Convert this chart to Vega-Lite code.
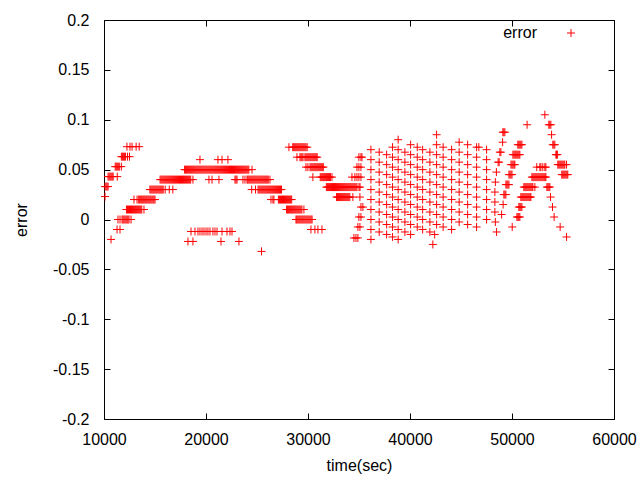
{
"$schema": "https://vega.github.io/schema/vega-lite/v6.json",
"width": 510, "height": 399,
"autosize": {"type": "none"},
"padding": {"left": 104, "top": 20, "right": 26, "bottom": 61},
"background": "white",
"config": {"view": {"stroke": "black", "strokeWidth": 1}, "font": "Liberation Sans",
 "axis": {"labelFont": "Liberation Sans", "labelFontSize": 16, "labelColor": "black", "titleFont": "Liberation Sans", "titleFontSize": 16, "titleFontWeight": "normal", "titleColor": "black", "tickColor": "black", "grid": false, "domain": false, "tickSize": -6, "labelFlush": false, "labelOverlap": false}},
"data": {"values": [
{"t":10100,"e":0.023},
{"t":10100,"e":0.033},{"t":10200,"e":0.033},{"t":10300,"e":0.033},{"t":10400,"e":0.033},
{"t":10400,"e":0.043},{"t":10500,"e":0.043},{"t":10600,"e":0.043},{"t":10700,"e":0.043},{"t":10800,"e":0.043},{"t":10900,"e":0.043},{"t":11300,"e":0.043},
{"t":11100,"e":0.053},{"t":11200,"e":0.053},{"t":11300,"e":0.053},{"t":11400,"e":0.053},{"t":11500,"e":0.053},{"t":11700,"e":0.053},
{"t":11700,"e":0.063},{"t":11800,"e":0.063},{"t":11900,"e":0.063},{"t":12000,"e":0.063},{"t":12100,"e":0.063},{"t":12300,"e":0.063},{"t":12500,"e":0.063},
{"t":12250,"e":0.073},{"t":12550,"e":0.073},{"t":12750,"e":0.073},{"t":13150,"e":0.073},{"t":13450,"e":0.073},
{"t":11370,"e":0},{"t":11570,"e":0},{"t":11770,"e":0},{"t":11860,"e":0},{"t":11960,"e":0},{"t":12060,"e":0},{"t":12160,"e":0},{"t":12260,"e":0},{"t":12350,"e":0},{"t":12450,"e":0},{"t":12650,"e":0},
{"t":11280,"e":-0.01},{"t":11570,"e":-0.01},{"t":10690,"e":-0.02},
{"t":12200,"e":0.01},{"t":12300,"e":0.01},{"t":12400,"e":0.01},{"t":12500,"e":0.01},{"t":12600,"e":0.01},{"t":12700,"e":0.01},{"t":12800,"e":0.01},{"t":12900,"e":0.01},{"t":13000,"e":0.01},{"t":13100,"e":0.01},{"t":13200,"e":0.01},{"t":13300,"e":0.01},{"t":13400,"e":0.01},{"t":13500,"e":0.01},{"t":13600,"e":0.01},{"t":13700,"e":0.01},{"t":13920,"e":0.01},
{"t":12940,"e":0.02},{"t":13240,"e":0.02},{"t":13400,"e":0.02},{"t":13500,"e":0.02},{"t":13600,"e":0.02},{"t":13700,"e":0.02},{"t":13800,"e":0.02},{"t":13900,"e":0.02},{"t":14000,"e":0.02},{"t":14100,"e":0.02},{"t":14200,"e":0.02},{"t":14300,"e":0.02},{"t":14400,"e":0.02},{"t":14500,"e":0.02},{"t":14600,"e":0.02},{"t":14700,"e":0.02},{"t":14800,"e":0.02},{"t":14900,"e":0.02},{"t":15000,"e":0.02},
{"t":14500,"e":0.03},{"t":14600,"e":0.03},{"t":14700,"e":0.03},{"t":14800,"e":0.03},{"t":14900,"e":0.03},{"t":15000,"e":0.03},{"t":15100,"e":0.03},{"t":15200,"e":0.03},{"t":15300,"e":0.03},{"t":15400,"e":0.03},{"t":15500,"e":0.03},{"t":15600,"e":0.03},{"t":15700,"e":0.03},{"t":15800,"e":0.03},{"t":16000,"e":0.03},{"t":16400,"e":0.03},{"t":16750,"e":0.03},
{"t":15500,"e":0.04},{"t":15600,"e":0.04},{"t":15700,"e":0.04},{"t":15800,"e":0.04},{"t":15900,"e":0.04},{"t":16000,"e":0.04},{"t":16100,"e":0.04},{"t":16200,"e":0.04},{"t":16300,"e":0.04},{"t":16400,"e":0.04},{"t":16500,"e":0.04},{"t":16600,"e":0.04},{"t":16700,"e":0.04},{"t":16800,"e":0.04},{"t":16900,"e":0.04},{"t":17000,"e":0.04},{"t":17100,"e":0.04},{"t":17200,"e":0.04},{"t":17300,"e":0.04},{"t":17400,"e":0.04},{"t":17500,"e":0.04},{"t":17600,"e":0.04},{"t":17700,"e":0.04},{"t":17800,"e":0.04},{"t":17900,"e":0.04},{"t":18000,"e":0.04},{"t":18100,"e":0.04},{"t":18200,"e":0.04},{"t":18300,"e":0.04},{"t":18400,"e":0.04},{"t":18500,"e":0.04},{"t":18720,"e":0.04},
{"t":20290,"e":0.04},{"t":20590,"e":0.04},{"t":21270,"e":0.04},{"t":22840,"e":0.04},{"t":22940,"e":0.04},{"t":23040,"e":0.04},{"t":23620,"e":0.04},{"t":23820,"e":0.04},{"t":24020,"e":0.04},
{"t":24100,"e":0.04},{"t":24200,"e":0.04},{"t":24300,"e":0.04},{"t":24400,"e":0.04},{"t":24500,"e":0.04},{"t":24600,"e":0.04},{"t":24700,"e":0.04},{"t":24800,"e":0.04},{"t":24900,"e":0.04},{"t":25000,"e":0.04},{"t":25100,"e":0.04},{"t":25200,"e":0.04},{"t":25300,"e":0.04},{"t":25400,"e":0.04},{"t":25500,"e":0.04},{"t":25600,"e":0.04},{"t":25700,"e":0.04},{"t":25800,"e":0.04},{"t":25900,"e":0.04},{"t":26000,"e":0.04},{"t":26100,"e":0.04},{"t":26270,"e":0.04},
{"t":17900,"e":0.05},{"t":18000,"e":0.05},{"t":18100,"e":0.05},{"t":18200,"e":0.05},{"t":18300,"e":0.05},{"t":18400,"e":0.05},{"t":18500,"e":0.05},{"t":18600,"e":0.05},{"t":18700,"e":0.05},{"t":18800,"e":0.05},{"t":18900,"e":0.05},{"t":19000,"e":0.05},{"t":19100,"e":0.05},{"t":19200,"e":0.05},{"t":19300,"e":0.05},{"t":19400,"e":0.05},{"t":19500,"e":0.05},{"t":19600,"e":0.05},{"t":19700,"e":0.05},{"t":19800,"e":0.05},{"t":19900,"e":0.05},{"t":20000,"e":0.05},{"t":20100,"e":0.05},{"t":20200,"e":0.05},{"t":20300,"e":0.05},{"t":20400,"e":0.05},{"t":20500,"e":0.05},{"t":20600,"e":0.05},{"t":20700,"e":0.05},{"t":20800,"e":0.05},{"t":20900,"e":0.05},{"t":21000,"e":0.05},{"t":21100,"e":0.05},{"t":21200,"e":0.05},{"t":21300,"e":0.05},{"t":21400,"e":0.05},{"t":21500,"e":0.05},{"t":21600,"e":0.05},{"t":21700,"e":0.05},{"t":21800,"e":0.05},{"t":21900,"e":0.05},{"t":22000,"e":0.05},{"t":22100,"e":0.05},{"t":22200,"e":0.05},{"t":22300,"e":0.05},{"t":22400,"e":0.05},{"t":22500,"e":0.05},{"t":22600,"e":0.05},{"t":22700,"e":0.05},{"t":22800,"e":0.05},{"t":22900,"e":0.05},{"t":23000,"e":0.05},{"t":23100,"e":0.05},{"t":23200,"e":0.05},{"t":23300,"e":0.05},{"t":23400,"e":0.05},{"t":23500,"e":0.05},{"t":23600,"e":0.05},{"t":23700,"e":0.05},{"t":23800,"e":0.05},{"t":23900,"e":0.05},{"t":24000,"e":0.05},{"t":24100,"e":0.05},{"t":24200,"e":0.05},{"t":24510,"e":0.05},
{"t":19410,"e":0.06},{"t":21170,"e":0.06},{"t":21570,"e":0.06},{"t":22150,"e":0.06},
{"t":24480,"e":0.03},{"t":24850,"e":0.03},{"t":25100,"e":0.03},{"t":25200,"e":0.03},{"t":25300,"e":0.03},{"t":25400,"e":0.03},{"t":25500,"e":0.03},{"t":25600,"e":0.03},{"t":25700,"e":0.03},{"t":25800,"e":0.03},{"t":25900,"e":0.03},{"t":26000,"e":0.03},{"t":26100,"e":0.03},{"t":26200,"e":0.03},{"t":26300,"e":0.03},{"t":26400,"e":0.03},{"t":26500,"e":0.03},{"t":26600,"e":0.03},{"t":26700,"e":0.03},{"t":26800,"e":0.03},{"t":26900,"e":0.03},{"t":27000,"e":0.03},{"t":27100,"e":0.03},{"t":27200,"e":0.03},{"t":27300,"e":0.03},{"t":27400,"e":0.03},
{"t":26370,"e":0.02},{"t":26560,"e":0.02},{"t":26660,"e":0.02},{"t":27100,"e":0.02},{"t":27200,"e":0.02},{"t":27300,"e":0.02},{"t":27400,"e":0.02},{"t":27500,"e":0.02},{"t":27600,"e":0.02},{"t":27700,"e":0.02},{"t":27800,"e":0.02},{"t":27900,"e":0.02},{"t":28000,"e":0.02},{"t":28100,"e":0.02},{"t":28200,"e":0.02},{"t":28300,"e":0.02},{"t":28400,"e":0.02},
{"t":27900,"e":0.01},{"t":28000,"e":0.01},{"t":28100,"e":0.01},{"t":28200,"e":0.01},{"t":28300,"e":0.01},{"t":28400,"e":0.01},{"t":28500,"e":0.01},{"t":28600,"e":0.01},{"t":28700,"e":0.01},{"t":28800,"e":0.01},{"t":28900,"e":0.01},{"t":29000,"e":0.01},{"t":29100,"e":0.01},{"t":29200,"e":0.01},{"t":29300,"e":0.01},{"t":29400,"e":0.01},{"t":29600,"e":0.01},
{"t":28820,"e":0},{"t":28900,"e":0},{"t":29000,"e":0},{"t":29100,"e":0},{"t":29200,"e":0},{"t":29300,"e":0},{"t":29400,"e":0},{"t":29500,"e":0},{"t":29600,"e":0},{"t":29700,"e":0},{"t":29800,"e":0},{"t":29900,"e":0},{"t":30000,"e":0},{"t":30100,"e":0},{"t":30200,"e":0},{"t":30300,"e":0},{"t":30400,"e":0},
{"t":30290,"e":-0.01},{"t":30680,"e":-0.01},{"t":30970,"e":-0.01},{"t":31370,"e":-0.01},
{"t":18530,"e":-0.012},{"t":18920,"e":-0.012},{"t":19210,"e":-0.012},{"t":19410,"e":-0.012},{"t":19610,"e":-0.012},{"t":19800,"e":-0.012},{"t":20000,"e":-0.012},{"t":20190,"e":-0.012},{"t":20390,"e":-0.012},{"t":20680,"e":-0.012},{"t":20880,"e":-0.012},{"t":21080,"e":-0.012},{"t":21570,"e":-0.012},{"t":22060,"e":-0.012},{"t":22350,"e":-0.012},{"t":22550,"e":-0.012},
{"t":18230,"e":-0.022},{"t":18720,"e":-0.022},{"t":21470,"e":-0.022},{"t":23230,"e":-0.022},{"t":25440,"e":-0.032},
{"t":28130,"e":0.0725},{"t":28500,"e":0.0725},{"t":28600,"e":0.0725},{"t":28700,"e":0.0725},{"t":28800,"e":0.0725},{"t":28900,"e":0.0725},{"t":29000,"e":0.0725},{"t":29100,"e":0.0725},{"t":29200,"e":0.0725},{"t":29300,"e":0.0725},{"t":29400,"e":0.0725},{"t":29500,"e":0.0725},{"t":29600,"e":0.0725},{"t":29700,"e":0.0725},{"t":29800,"e":0.0725},{"t":29920,"e":0.0725},
{"t":28920,"e":0.0625},{"t":29210,"e":0.0625},{"t":29310,"e":0.0625},{"t":29410,"e":0.0625},{"t":29510,"e":0.0625},{"t":29700,"e":0.0625},{"t":29800,"e":0.0625},{"t":29900,"e":0.0625},{"t":30000,"e":0.0625},{"t":30100,"e":0.0625},{"t":30200,"e":0.0625},{"t":30300,"e":0.0625},{"t":30400,"e":0.0625},{"t":30500,"e":0.0625},{"t":30600,"e":0.0625},{"t":30700,"e":0.0625},{"t":30800,"e":0.0625},{"t":30900,"e":0.0625},
{"t":29800,"e":0.0525},{"t":29990,"e":0.0525},{"t":30200,"e":0.0525},{"t":30300,"e":0.0525},{"t":30400,"e":0.0525},{"t":30500,"e":0.0525},{"t":30600,"e":0.0525},{"t":30700,"e":0.0525},{"t":30800,"e":0.0525},{"t":30900,"e":0.0525},{"t":31000,"e":0.0525},{"t":31100,"e":0.0525},{"t":31200,"e":0.0525},{"t":31300,"e":0.0525},{"t":31400,"e":0.0525},{"t":31500,"e":0.0525},
{"t":30480,"e":0.0425},{"t":31200,"e":0.0425},{"t":31300,"e":0.0425},{"t":31400,"e":0.0425},{"t":31500,"e":0.0425},{"t":31600,"e":0.0425},{"t":31700,"e":0.0425},{"t":31800,"e":0.0425},{"t":31900,"e":0.0425},{"t":32000,"e":0.0425},{"t":32100,"e":0.0425},{"t":32200,"e":0.0425},{"t":32350,"e":0.0425},
{"t":31800,"e":0.0325},{"t":31900,"e":0.0325},{"t":32000,"e":0.0325},{"t":32100,"e":0.0325},{"t":32200,"e":0.0325},{"t":32300,"e":0.0325},{"t":32400,"e":0.0325},{"t":32500,"e":0.0325},{"t":32600,"e":0.0325},{"t":32700,"e":0.0325},{"t":32800,"e":0.0325},{"t":32900,"e":0.0325},{"t":33000,"e":0.0325},{"t":33100,"e":0.0325},{"t":33200,"e":0.0325},{"t":33300,"e":0.0325},{"t":33400,"e":0.0325},{"t":33500,"e":0.0325},{"t":33600,"e":0.0325},{"t":33700,"e":0.0325},{"t":33800,"e":0.0325},{"t":33900,"e":0.0325},{"t":34000,"e":0.0325},{"t":34100,"e":0.0325},{"t":34200,"e":0.0325},{"t":34300,"e":0.0325},{"t":34400,"e":0.0325},{"t":34500,"e":0.0325},{"t":34600,"e":0.0325},{"t":34700,"e":0.0325},{"t":34800,"e":0.0325},{"t":35000,"e":0.0325},{"t":35100,"e":0.0325},
{"t":32800,"e":0.0225},{"t":32900,"e":0.0225},{"t":33000,"e":0.0225},{"t":33100,"e":0.0225},{"t":33200,"e":0.0225},{"t":33300,"e":0.0225},{"t":33400,"e":0.0225},{"t":33500,"e":0.0225},{"t":33600,"e":0.0225},{"t":33700,"e":0.0225},{"t":33800,"e":0.0225},{"t":33900,"e":0.0225},{"t":34000,"e":0.0225},{"t":34100,"e":0.0225},{"t":34400,"e":0.0225},
{"t":34990,"e":0.0625},{"t":35190,"e":0.0625},{"t":35290,"e":0.0625},
{"t":34800,"e":0.0525},{"t":34990,"e":0.0525},{"t":35190,"e":0.0525},
{"t":34310,"e":0.0425},{"t":34600,"e":0.0425},{"t":34800,"e":0.0425},{"t":34990,"e":0.0425},{"t":35190,"e":0.0425},
{"t":35090,"e":0.0225},{"t":35190,"e":0.0125},{"t":35380,"e":0.0125},{"t":34990,"e":0.0025},{"t":35190,"e":0.0025},{"t":34890,"e":-0.0075},{"t":35090,"e":-0.0075},{"t":34500,"e":-0.0185},{"t":34700,"e":-0.0185},{"t":34890,"e":-0.0185},
{"t":36170,"e":0.07},{"t":36170,"e":0.06},{"t":36170,"e":0.05},{"t":36170,"e":0.04},{"t":36170,"e":0.03},{"t":36170,"e":0.02},{"t":36170,"e":0.01},{"t":36170,"e":0},{"t":36170,"e":-0.01},{"t":36170,"e":-0.02},
{"t":36980,"e":0.0675},{"t":36980,"e":0.0575},{"t":36980,"e":0.0475},{"t":36980,"e":0.0375},{"t":36980,"e":0.0275},{"t":36980,"e":0.0175},{"t":36980,"e":0.0075},{"t":36980,"e":-0.0025},{"t":36980,"e":-0.0125},
{"t":37710,"e":0.065},{"t":37710,"e":0.055},{"t":37710,"e":0.045},{"t":37710,"e":0.035},{"t":37710,"e":0.025},{"t":37710,"e":0.015},{"t":37710,"e":0.005},{"t":37710,"e":-0.005},{"t":37710,"e":-0.015},
{"t":38290,"e":0.0725},{"t":38290,"e":0.0625},{"t":38290,"e":0.0525},{"t":38290,"e":0.0425},{"t":38290,"e":0.0325},{"t":38290,"e":0.0225},{"t":38290,"e":0.0125},{"t":38290,"e":0.0025},{"t":38290,"e":-0.0075},{"t":38290,"e":-0.0175},
{"t":38840,"e":0.08},{"t":38840,"e":0.07},{"t":38840,"e":0.06},{"t":38840,"e":0.05},{"t":38840,"e":0.04},{"t":38840,"e":0.03},{"t":38840,"e":0.02},{"t":38840,"e":0.01},{"t":38840,"e":0},{"t":38840,"e":-0.01},{"t":38840,"e":-0.02},
{"t":39500,"e":0.0675},{"t":39500,"e":0.0575},{"t":39500,"e":0.0475},{"t":39500,"e":0.0375},{"t":39500,"e":0.0275},{"t":39500,"e":0.0175},{"t":39500,"e":0.0075},{"t":39500,"e":-0.0025},{"t":39500,"e":-0.0125},
{"t":40060,"e":0.075},{"t":40060,"e":0.065},{"t":40060,"e":0.055},{"t":40060,"e":0.045},{"t":40060,"e":0.035},{"t":40060,"e":0.025},{"t":40060,"e":0.015},{"t":40060,"e":0.005},{"t":40060,"e":-0.005},{"t":40060,"e":-0.015},
{"t":40710,"e":0.0725},{"t":40710,"e":0.0625},{"t":40710,"e":0.0525},{"t":40710,"e":0.0425},{"t":40710,"e":0.0325},{"t":40710,"e":0.0225},{"t":40710,"e":0.0125},{"t":40710,"e":0.0025},{"t":40710,"e":-0.0075},
{"t":41240,"e":0.07},{"t":41240,"e":0.06},{"t":41240,"e":0.05},{"t":41240,"e":0.04},{"t":41240,"e":0.03},{"t":41240,"e":0.02},{"t":41240,"e":0.01},{"t":41240,"e":0},{"t":41240,"e":-0.01},
{"t":41950,"e":0.0675},{"t":41950,"e":0.0575},{"t":41950,"e":0.0475},{"t":41950,"e":0.0375},{"t":41950,"e":0.0275},{"t":41950,"e":0.0175},{"t":41950,"e":0.0075},{"t":41950,"e":-0.0025},{"t":41950,"e":-0.0125},
{"t":42610,"e":0.085},{"t":42610,"e":0.075},{"t":42610,"e":0.065},{"t":42610,"e":0.055},{"t":42610,"e":0.045},{"t":42610,"e":0.035},{"t":42610,"e":0.025},{"t":42610,"e":0.015},{"t":42610,"e":0.005},{"t":42610,"e":-0.005},{"t":42420,"e":-0.015},{"t":42240,"e":-0.025},
{"t":43250,"e":0.0725},{"t":43250,"e":0.0625},{"t":43250,"e":0.0525},{"t":43250,"e":0.0425},{"t":43250,"e":0.0325},{"t":43250,"e":0.0225},{"t":43250,"e":0.0125},{"t":43250,"e":0.0025},{"t":43250,"e":-0.0075},
{"t":44080,"e":0.07},{"t":44080,"e":0.06},{"t":44080,"e":0.05},{"t":44080,"e":0.04},{"t":44080,"e":0.03},{"t":44080,"e":0.02},{"t":44080,"e":0.01},{"t":44080,"e":0},{"t":44080,"e":-0.01},
{"t":44820,"e":0.0775},{"t":44820,"e":0.0675},{"t":44820,"e":0.0575},{"t":44820,"e":0.0475},{"t":44820,"e":0.0375},{"t":44820,"e":0.0275},{"t":44820,"e":0.0175},{"t":44820,"e":0.0075},{"t":44820,"e":-0.0025},
{"t":45650,"e":0.075},{"t":45650,"e":0.065},{"t":45650,"e":0.055},{"t":45650,"e":0.045},{"t":45650,"e":0.035},{"t":45650,"e":0.025},{"t":45650,"e":0.015},{"t":45650,"e":0.005},{"t":45650,"e":-0.005},
{"t":46530,"e":0.0725},{"t":46750,"e":0.0725},{"t":46530,"e":0.0625},{"t":46530,"e":0.0525},{"t":46530,"e":0.0425},{"t":46530,"e":0.0325},{"t":46530,"e":0.0225},{"t":46530,"e":0.0125},{"t":46530,"e":0.0025},{"t":46530,"e":-0.0075},
{"t":47510,"e":0.07},{"t":47510,"e":0.06},{"t":47510,"e":0.05},{"t":47510,"e":0.04},{"t":47510,"e":0.03},{"t":47510,"e":0.02},{"t":47510,"e":0.01},{"t":47510,"e":0},
{"t":49100,"e":0.0875},{"t":49200,"e":0.0875},{"t":49300,"e":0.0875},{"t":49080,"e":0.0775},{"t":48810,"e":0.0675},{"t":48910,"e":0.0675},{"t":48640,"e":0.0575},{"t":48740,"e":0.0575},{"t":48470,"e":0.0475},{"t":48370,"e":0.0375},{"t":48320,"e":0.0275},{"t":48320,"e":0.0175},{"t":48320,"e":0.0075},{"t":48370,"e":-0.0025},{"t":48490,"e":-0.0125},
{"t":50570,"e":0.075},{"t":50670,"e":0.075},{"t":50770,"e":0.075},{"t":50870,"e":0.075},{"t":50970,"e":0.075},
{"t":50090,"e":0.065},{"t":50190,"e":0.065},{"t":50290,"e":0.065},{"t":50380,"e":0.065},{"t":50480,"e":0.065},{"t":50580,"e":0.065},{"t":50680,"e":0.065},{"t":50770,"e":0.065},
{"t":49900,"e":0.055},{"t":50000,"e":0.055},{"t":50100,"e":0.055},{"t":50200,"e":0.055},{"t":50280,"e":0.055},
{"t":49700,"e":0.045},{"t":49800,"e":0.045},{"t":49900,"e":0.045},{"t":50000,"e":0.045},
{"t":49400,"e":0.035},{"t":49500,"e":0.035},{"t":49600,"e":0.035},{"t":49700,"e":0.035},
{"t":49200,"e":0.025},{"t":49300,"e":0.025},{"t":49400,"e":0.025},{"t":49130,"e":0.015},{"t":48980,"e":0.005},
{"t":51480,"e":0.095},
{"t":52430,"e":0.0525},{"t":52730,"e":0.0525},{"t":52830,"e":0.0525},{"t":53020,"e":0.0525},{"t":53220,"e":0.0525},{"t":53320,"e":0.0525},
{"t":51950,"e":0.0425},{"t":52050,"e":0.0425},{"t":52150,"e":0.0425},{"t":52250,"e":0.0425},{"t":52350,"e":0.0425},{"t":52450,"e":0.0425},{"t":52550,"e":0.0425},{"t":52650,"e":0.0425},{"t":52750,"e":0.0425},{"t":52850,"e":0.0425},{"t":52950,"e":0.0425},{"t":53050,"e":0.0425},{"t":53150,"e":0.0425},{"t":53250,"e":0.0425},{"t":53320,"e":0.0425},
{"t":51160,"e":0.0325},{"t":51260,"e":0.0325},{"t":51360,"e":0.0325},{"t":51460,"e":0.0325},{"t":51560,"e":0.0325},{"t":51660,"e":0.0325},{"t":51760,"e":0.0325},{"t":51860,"e":0.0325},{"t":51960,"e":0.0325},{"t":52040,"e":0.0325},{"t":52240,"e":0.0325},
{"t":50870,"e":0.0225},{"t":50970,"e":0.0225},{"t":51070,"e":0.0225},{"t":51170,"e":0.0225},{"t":51270,"e":0.0225},{"t":51370,"e":0.0225},{"t":51470,"e":0.0225},{"t":51570,"e":0.0225},{"t":51670,"e":0.0225},{"t":51770,"e":0.0225},{"t":51850,"e":0.0225},
{"t":50670,"e":0.0125},{"t":50770,"e":0.0125},{"t":50870,"e":0.0125},{"t":50970,"e":0.0125},
{"t":50480,"e":0.0025},{"t":50580,"e":0.0025},{"t":50670,"e":0.0025},{"t":50770,"e":0.0025},{"t":50020,"e":-0.0075},
{"t":53220,"e":0.105},{"t":53610,"e":0.095},{"t":53710,"e":0.095},{"t":53810,"e":0.095},{"t":53880,"e":0.085},
{"t":54000,"e":0.075},{"t":54100,"e":0.075},{"t":54200,"e":0.075},{"t":54300,"e":0.065},{"t":54370,"e":0.065},{"t":54450,"e":0.065},
{"t":54490,"e":0.055},{"t":54590,"e":0.055},{"t":54690,"e":0.055},{"t":54790,"e":0.055},{"t":54890,"e":0.055},{"t":54990,"e":0.055},{"t":55090,"e":0.055},{"t":55180,"e":0.055},{"t":55350,"e":0.055},
{"t":54880,"e":0.045},{"t":54980,"e":0.045},{"t":55080,"e":0.045},{"t":55180,"e":0.045},{"t":55280,"e":0.045},{"t":55380,"e":0.045},{"t":55470,"e":0.045},
{"t":53420,"e":0.0325},{"t":53520,"e":0.0325},{"t":53620,"e":0.0325},{"t":53710,"e":0.0325},
{"t":53780,"e":0.0225},{"t":53970,"e":0.0125},{"t":54130,"e":0.0025},{"t":54720,"e":-0.0075},{"t":55350,"e":-0.0175}
]},
"layer": [
 {"mark": {"type": "point", "shape": "M-1,0H1M0,-1V1", "filled": false, "size": 64, "strokeWidth": 1, "opacity": 1},
  "encoding": {
   "x": {"field": "t", "type": "quantitative", "scale": {"domain": [10000, 60000], "nice": false, "zero": false},
     "axis": {"values": [10000,20000,30000,40000,50000,60000], "labelExpr": "'' + datum.value", "labelPadding": 18, "title": "time(sec)", "titlePadding": 10}},
   "y": {"field": "e", "type": "quantitative", "scale": {"domain": [-0.2, 0.2], "nice": false, "zero": false},
     "axis": {"values": [-0.2,-0.15,-0.1,-0.05,0,0.05,0.1,0.15,0.2], "labelExpr": "'' + datum.value", "labelPadding": 21, "title": "error", "titlePadding": 23}},
   "color": {"datum": "error", "type": "nominal", "scale": {"range": ["#ff0000"]},
     "legend": {"orient": "none", "legendX": 459, "legendY": 5, "title": null, "padding": 0, "symbolType": "M-1,0H1M0,-1V1", "symbolSize": 64, "symbolStrokeWidth": 1, "symbolStrokeColor": "#ff0000", "labelAlign": "right", "labelOffset": -42, "labelFont": "Liberation Sans", "labelFontSize": 16, "labelColor": "black"}}
  }},
 {"data": {"values": [{"t": 10000, "e": 0}]},
  "mark": {"type": "point", "opacity": 0},
  "encoding": {
   "x": {"field": "t", "type": "quantitative", "scale": {"domain": [10000, 60000], "nice": false, "zero": false},
     "axis": {"orient": "top", "values": [10000,20000,30000,40000,50000,60000], "labels": false, "title": null}},
   "y": {"field": "e", "type": "quantitative", "scale": {"domain": [-0.2, 0.2], "nice": false, "zero": false},
     "axis": {"orient": "right", "values": [-0.2,-0.15,-0.1,-0.05,0,0.05,0.1,0.15,0.2], "labels": false, "title": null}}
  }}
],
"resolve": {"axis": {"x": "independent", "y": "independent"}}
}
